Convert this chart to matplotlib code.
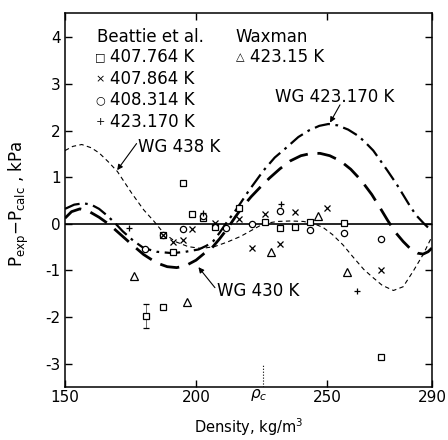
import matplotlib
matplotlib.use("Agg")
import matplotlib.pyplot as plt

plt.rcParams['font.family'] = ['DejaVu Sans']
plt.rcParams['axes.unicode_minus'] = False

# --- data (density kg/m3, P_exp - P_calc kPa) ---
# Beattie et al.
sq_rho = [180.8, 187.5, 187.3, 191.1, 194.9, 198.6, 202.7, 207.3, 216.5, 226.4, 232.0, 237.7, 243.3, 256.4, 270.6]
sq_dp = [-1.97, -1.79, -0.23, -0.60, 0.87, 0.21, 0.13, -0.07, 0.34, 0.03, -0.08, -0.07, 0.04, 0.01, -2.85]
x_rho = [187.3, 191.3, 194.9, 198.4, 207.2, 216.5, 221.3, 226.3, 232.0, 237.7, 249.8, 270.4]
x_dp = [-0.23, -0.38, -0.35, -0.12, 0.02, 0.10, -0.51, 0.20, -0.43, 0.25, 0.34, -1.00]
c_rho = [180.6, 187.3, 194.9, 202.7, 211.5, 221.3, 232.2, 243.3, 256.4, 270.4]
c_dp = [-0.54, -0.23, -0.12, 0.16, -0.09, -0.01, 0.28, -0.14, -0.20, -0.33]
p_rho = [174.3, 202.7, 232.5, 261.5]
p_dp = [-0.08, 0.24, 0.43, -1.45]
# Waxman
t_rho = [176.4, 196.5, 228.5, 246.4, 257.5]
t_dp = [-1.12, -1.67, -0.60, 0.16, -1.03]
# error bar on the low-density square
err_rho = [180.8]
err_dp = [-1.97]
err_lo = [0.26]
err_hi = [0.24]

# WG curves
wg438_rho = [150, 153, 156.4, 160, 163, 166.5, 170, 175.4, 180, 184, 187.5, 192, 197, 202,
             207, 212, 217, 221.5, 225.7, 231, 236, 241, 245, 248.5, 252, 256, 260, 264,
             267, 271, 275.3, 279, 282.9, 286.7, 289.3, 290]
wg438_dp = [1.57, 1.66, 1.70, 1.63, 1.52, 1.33, 1.12, 0.66, 0.30, 0.05, -0.19, -0.38, -0.49, -0.53,
            -0.49, -0.39, -0.27, -0.13, 0.0, 0.05, 0.06, 0.05, 0.0, -0.08, -0.23, -0.45, -0.72, -0.98,
            -1.13, -1.32, -1.43, -1.35, -1.01, -0.65, -0.35, -0.28]

wg430_rho = [150, 152.5, 155.7, 159, 163, 167, 171, 175, 180, 185, 189, 192.6, 196, 200, 203,
             206, 209, 212, 215, 218, 221, 224.4, 228, 232, 236, 240, 244, 247.3, 251, 255,
             259, 263, 267, 270, 273, 276, 279, 282, 284.5, 286.6, 288.5, 290]
wg430_dp = [0.12, 0.26, 0.32, 0.27, 0.14, -0.02, -0.22, -0.42, -0.66, -0.84, -0.92, -0.94, -0.90, -0.78, -0.64,
            -0.52, -0.32, -0.10, 0.15, 0.38, 0.58, 0.78, 0.98, 1.18, 1.35, 1.46, 1.51, 1.51, 1.46, 1.35,
            1.17, 0.93, 0.63, 0.36, 0.08, -0.18, -0.38, -0.55, -0.63, -0.65, -0.60, -0.52]

wg423_rho = [150, 153.5, 157, 160, 163, 166, 169, 172, 176, 180, 185, 191, 196, 201, 204,
             206.6, 209, 211.3, 215.5, 220, 225.7, 230, 234.6, 239, 243, 247, 250.5, 254, 258, 262,
             265, 267.6, 270, 273, 276.5, 279, 281.6, 284, 287, 290]
wg423_dp = [0.32, 0.41, 0.44, 0.41, 0.32, 0.18, 0.02, -0.16, -0.36, -0.52, -0.60, -0.63, -0.60, -0.55, -0.47,
            -0.37, -0.19, 0.0, 0.32, 0.70, 1.14, 1.42, 1.64, 1.86, 2.00, 2.10, 2.14, 2.11, 2.02, 1.88,
            1.72, 1.57, 1.38, 1.14, 0.85, 0.62, 0.38, 0.18, 0.0, -0.16]

rho_c = 225.7
x_ticks = [150, 200, 250, 290]
y_ticks = [-3, -2, -1, 0, 1, 2, 3, 4]

fig = plt.figure(figsize=(4.48, 4.40), dpi=100)
ax = fig.add_axes([65 / 448, 53 / 440, 367 / 448, 374 / 440])

ax.axhline(0, color='k', lw=1.2, zorder=2)

ax.plot(wg438_rho, wg438_dp, color='k', lw=0.8, dashes=(4, 3))
ax.plot(wg430_rho, wg430_dp, color='k', lw=2.0, dashes=(7, 3.5))
ax.plot(wg423_rho, wg423_dp, color='k', lw=1.6, dashes=(7, 2.5, 1.2, 2.5))

mk = dict(ls='none', color='k', mfc='white', mew=0.9, zorder=3)
ax.plot(sq_rho, sq_dp, marker='s', ms=4, **mk)
ax.plot(c_rho, c_dp, marker='o', ms=4.5, **mk)
ax.plot(x_rho, x_dp, marker='x', ms=4.5, **mk)
ax.plot(p_rho, p_dp, marker='+', ms=5, **mk)
ax.plot(t_rho, t_dp, marker='^', ms=5.5, **mk)
ax.errorbar(err_rho, err_dp, yerr=[err_lo, err_hi], fmt='none', ecolor='k',
            elinewidth=0.4, capsize=2, capthick=0.9)

# critical density marker
ax.plot([rho_c, rho_c], [-3.5, -3.0], color='k', lw=0.8, ls=':')

# legend as text block
fs = 12
ax.text(162.2, 4.0, 'Beattie et al.', fontsize=fs, va='center')
ax.text(215.2, 4.0, 'Waxman', fontsize=fs, va='center')
keys = ['\u25a1', '\u00d7', '\u25cb', '+']
labels = ['407.764 K', '407.864 K', '408.314 K', '423.170 K']
rows = [3.57, 3.1, 2.65, 2.19]
for k, lab, yy in zip(keys, labels, rows):
    ax.text(163.4, yy, k, fontsize=8, va='center', ha='center')
    ax.text(167.3, yy, lab, fontsize=fs, va='center')
ax.text(217.0, 3.57, '\u25b3', fontsize=8, va='center', ha='center')
ax.text(220.4, 3.57, '423.15 K', fontsize=fs, va='center')

arr = dict(arrowstyle='-|>', color='k', lw=0.8, mutation_scale=8, shrinkA=0, shrinkB=0)
ax.annotate('', xy=(169.9, 1.15), xytext=(177.3, 1.72), arrowprops=arr)
ax.text(178.0, 1.64, 'WG 438 K', fontsize=fs, va='center')
ax.annotate('', xy=(200.9, -0.93), xytext=(207.2, -1.37), arrowprops=arr)
ax.text(208.0, -1.44, 'WG 430 K', fontsize=fs, va='center')
ax.annotate('', xy=(251.1, 2.17), xytext=(254.9, 2.55), arrowprops=arr)
ax.text(230.1, 2.71, 'WG 423.170 K', fontsize=fs, va='center')

ax.set_xlim(150, 290)
ax.set_ylim(-3.5, 4.52)
ax.set_xticks(x_ticks)
ax.set_xticklabels([str(v) for v in x_ticks])
ax.set_yticks(y_ticks)
ax.set_yticklabels([str(v) for v in y_ticks])
ax.tick_params(direction='in', length=5, width=1, top=True, right=True,
               labelsize=11, pad=3)
ax.tick_params(axis='x', pad=2)
ax.text(224.0, -3.5, r'$\rho_c$', fontsize=11, ha='center', va='top',
        transform=ax.transData)
for s in ax.spines.values():
    s.set_linewidth(1.1)

ax.set_xlabel('Density, kg/m$^3$', fontsize=10.5)
ax.xaxis.set_label_coords(0.5, -0.078)
ax.set_ylabel(r'P$_{\rm exp}$$-$P$_{\rm calc}$ , kPa', fontsize=12)
ax.yaxis.set_label_coords(-0.092, 0.49)

fig.savefig('out.png', dpi=100, facecolor='white')
